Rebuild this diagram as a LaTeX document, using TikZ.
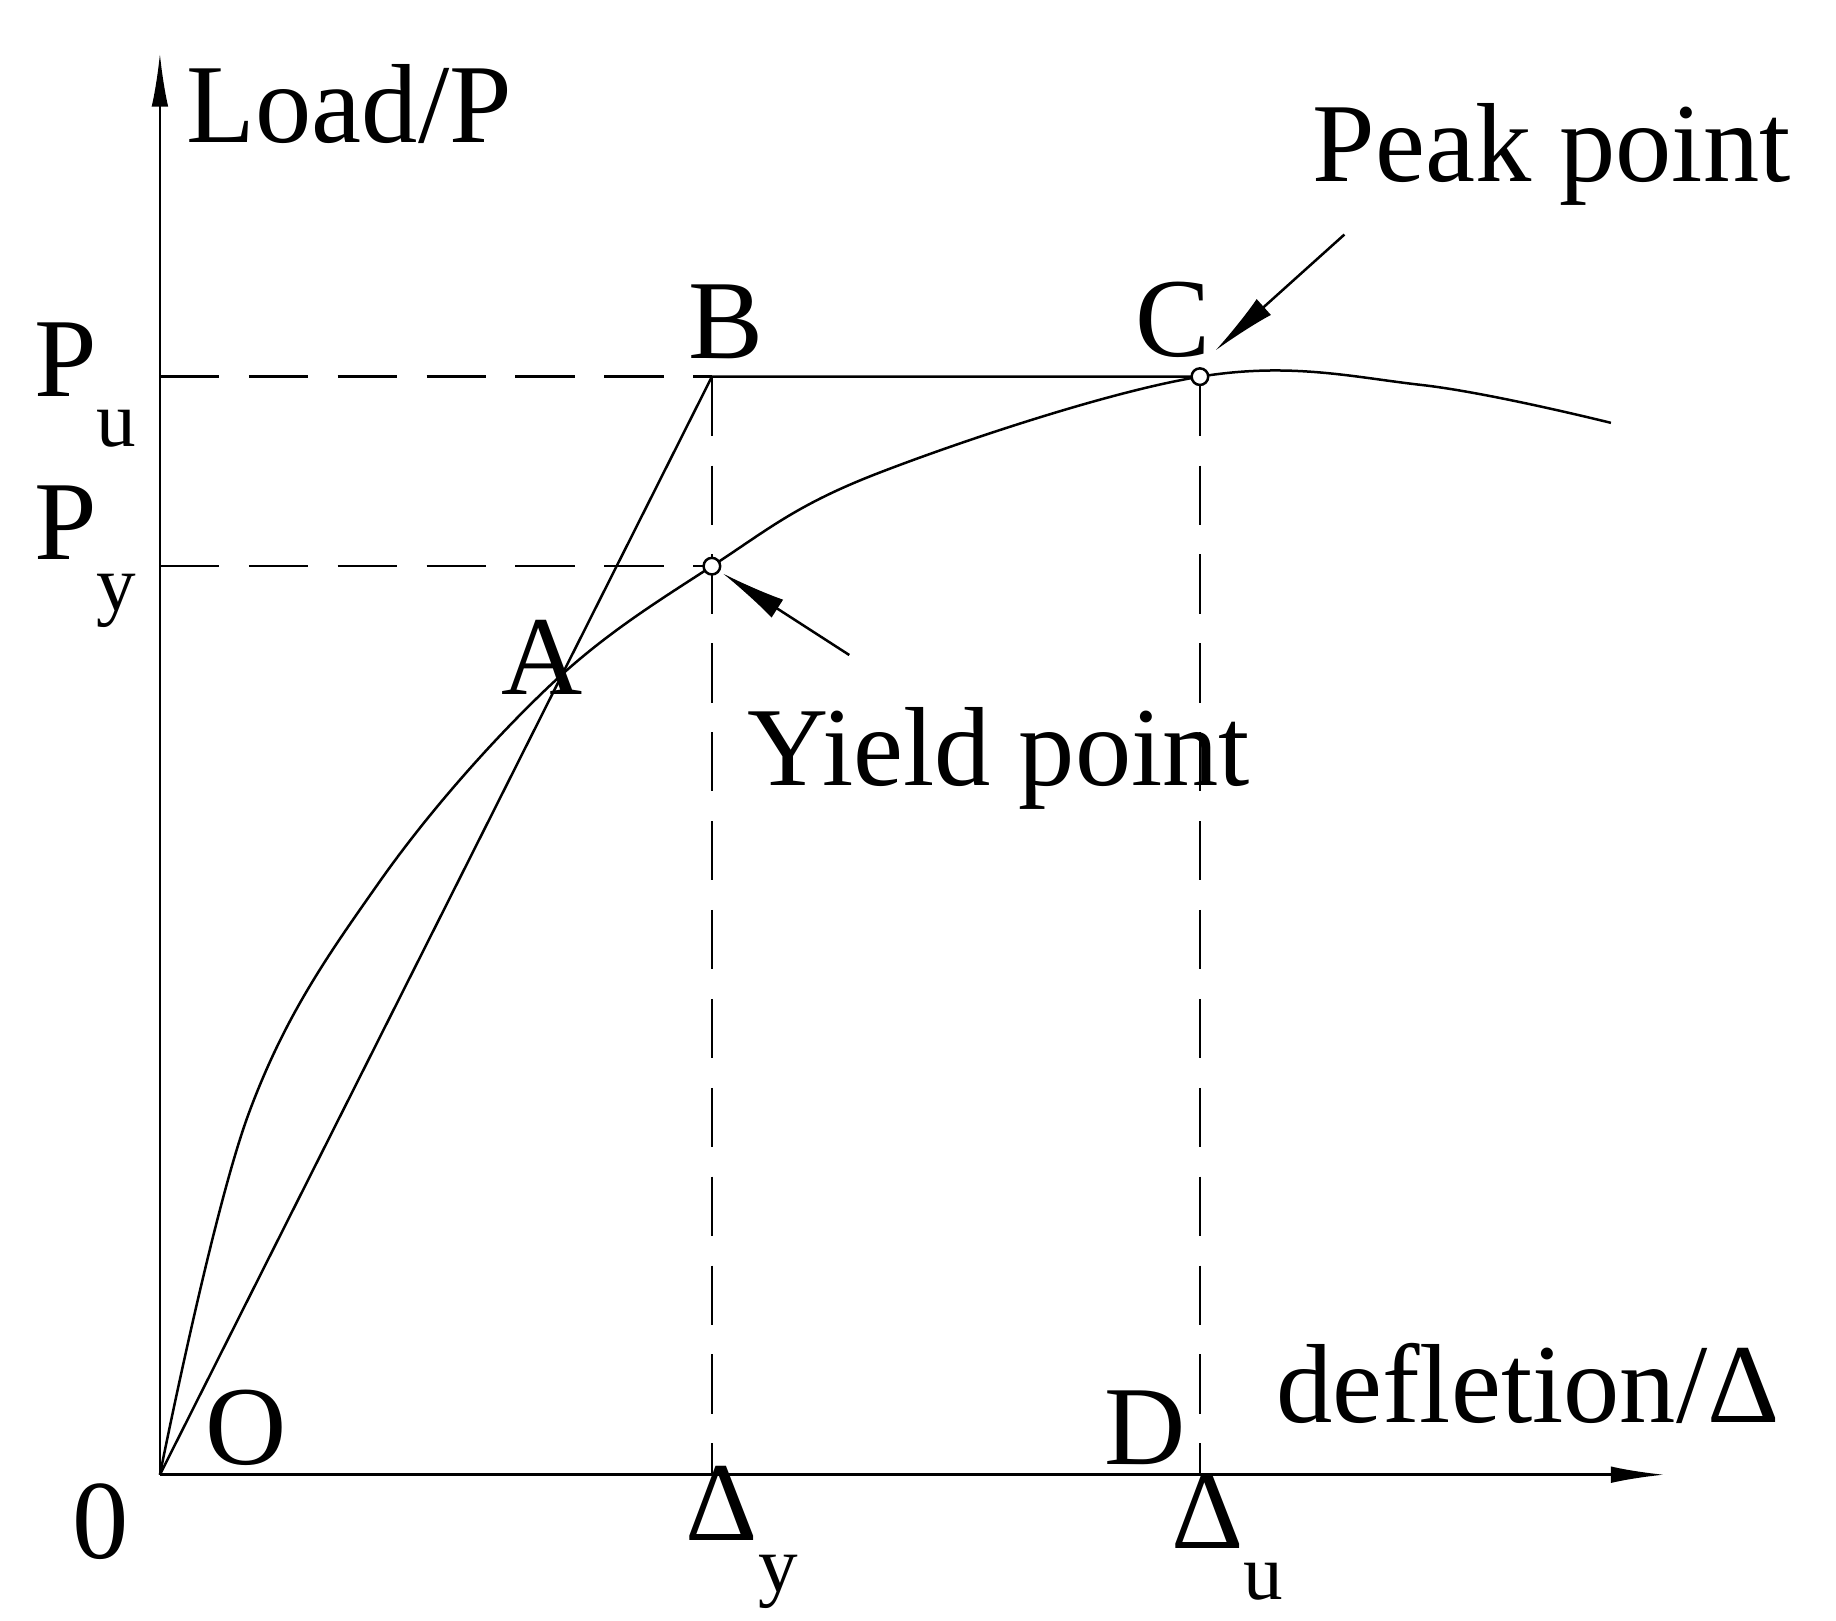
\documentclass[tikz,border=0pt]{standalone}
\usepackage{fontspec}
\setmainfont{Liberation Serif}
\usetikzlibrary{arrows.meta}
\tikzset{
	lbl/.style={font=\fontsize{27}{30}\selectfont, inner sep=0pt},
	guide/.style={dash pattern=on 0.5cm off 0.25cm, line width=0.6pt},
	pointer/.style={-{Latex[length=0.55cm,width=0.18cm]}, line width=0.6pt}
}
\newcommand{\sub}[1]{\raisebox{-0.45em}{\fontsize{19}{20}\selectfont #1}}
\begin{document}
\begin{tikzpicture}[x=0.01cm, y=-0.01cm, line width=0.6pt]
		\useasboundingbox (0,0) rectangle (1550,1368);
		% Punti
		\coordinate (O) at (135,1245);
		\coordinate (pA) at (463,580);
		\coordinate (pB) at (601,318);
		\coordinate (pY) at (601,478);
		\coordinate (pC) at (1013,318);
		\coordinate (pD) at (1013,1245);
		\coordinate (pDy) at (601,1245);
		\coordinate (yPu) at (135,318);
		\coordinate (yPy) at (135,478);
		
		% Assi
		\draw[-{Latex[length=0.45cm,width=0.14cm]}] (O) -- (1405,1245);
		\draw[-{Latex[length=0.45cm,width=0.14cm]}] (O) -- (135,45);
		
		% Curva carico-spostamento
		\draw plot[smooth, tension=0.6] coordinates {(135,1245) (210,940) (320,745) (463,580) (601,478) (740,400) (1013,318) (1200,325) (1360,357)};
		\draw (O) -- (pB) -- (pC);
		
		% Linee guida
		\draw[guide] (yPu) -- (pB);
		\draw[guide] (yPy) -- (pY);
		\draw[guide] (pB) -- (pDy);
		\draw[guide] (pC) -- (pD);
		\draw[fill=white] (pY) circle (0.07cm) (pC) circle (0.07cm);
		
		% Annotazioni
		\coordinate (peakTail) at (1135,198);
		\coordinate (yieldTail) at (717,553);
		\draw[pointer] (peakTail) -- (1026,296);
		\draw[pointer] (yieldTail) -- (610,484);
		
		% Etichette
		\node[lbl] (load) at (295,88) {Load/P};
		\node[lbl] (peak) at (1310,130) {Peak point};
		\node[lbl] (yield) at (843,640) {Yield point};
		\node[lbl] (defl) at (1290,1168) {defletion/Δ};
		\node[lbl] (lB) at (613,272) {B};
		\node[lbl] (lC) at (990,270) {C};
		\node[lbl] (lA) at (458,555) {A};
		\node[lbl] (lO) at (208,1205) {O};
		\node[lbl] (lD) at (967,1205) {D};
		\node[lbl] (l0) at (85,1285) {0};
		\node[lbl, anchor=west] (lPu) at (28,325) {P\sub{u}};
		\node[lbl, anchor=west] (lPy) at (28,470) {P\sub{y}};
		\node[lbl, anchor=west] (lDy) at (578,1298) {Δ\sub{y}};
		\node[lbl, anchor=west] (lDu) at (988,1298) {Δ\sub{u}};
	\end{tikzpicture}
\end{document}
